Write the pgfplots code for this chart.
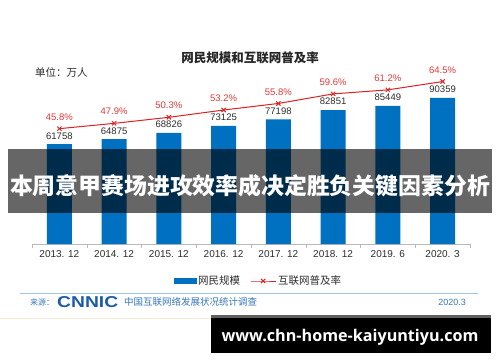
\documentclass[border=0pt]{standalone}
\usepackage{pgfplots}
\pgfplotsset{compat=1.18}
\usepackage{fontspec}
\usepackage{graphicx}
\setmainfont{Liberation Sans}
\newfontfamily\cjk{Noto Sans CJK SC}
\newfontfamily\urlfont{Open Sans}
\definecolor{barblue}{RGB}{0,112,192}
\definecolor{linered}{RGB}{218,36,36}
\definecolor{lblred}{RGB}{226,58,58}
\definecolor{txtgray}{RGB}{45,45,45}
\definecolor{srcblue}{RGB}{55,118,188}
\definecolor{logoblue}{RGB}{28,92,170}
\definecolor{rulec}{RGB}{160,196,230}
\definecolor{beige}{RGB}{244,234,214}
\pgfplotsset{longline/.style={legend image code/.code={\draw[mark repeat=2,mark phase=2,##1] plot coordinates {(0pt,0pt) (12.5pt,0pt) (25pt,0pt)};}}}
\begin{document}
\begin{tikzpicture}
\path[use as bounding box, fill=white] (0pt,0pt) rectangle (500pt,362pt);
\node[font=\cjk\bfseries\fontsize{12.5}{14}\selectfont, text=black!85] at (250pt,304pt) {网民规模和互联网普及率};
\node[font=\cjk\fontsize{10.5}{12}\selectfont, text=txtgray, anchor=west, inner sep=0pt] at (35pt,290pt) {单位：万人};

\begin{axis}[
  at={(32pt,118pt)}, anchor=south west,
  scale only axis, width=438pt, height=170pt,
  xmin=-0.5, xmax=7.5, ymin=0, ymax=105200,
  axis y line=none, axis x line*=bottom,
  axis line style={draw=gray!55,-},
  xtick={0,...,7},
  xticklabels={2013. 12,2014. 12,2015. 12,2016. 12,2017. 12,2018. 12,2019. 6,2020. 3},
  major tick length=0pt,
  minor xtick={-0.5,0.5,...,7.5}, minor tick length=4pt, tick align=outside,
  minor tick style={draw=gray!55},
  xticklabel style={font=\fontsize{10}{12}\selectfont, text=txtgray, yshift=-3pt},
  ybar, bar width=25pt, clip=false,
  point meta=explicit symbolic,
  nodes near coords,
  nodes near coords style={font=\fontsize{9.5}{11}\selectfont, text=txtgray, yshift=1.5pt},
]
\addplot[fill=barblue, draw=none] coordinates {
(0,61758)[61758] (1,64875)[64875] (2,68826)[68826] (3,73125)[73125]
(4,77198)[77198] (5,82851)[82851] (6,85449)[85449] (7,90359)[90359]};
\end{axis}

\begin{axis}[
  at={(32pt,118pt)}, anchor=south west,
  scale only axis, width=438pt, height=170pt,
  xmin=-0.5, xmax=7.5, ymin=0, ymax=67.5,
  hide axis, clip=false,
  legend style={draw=none, fill=none, legend columns=2,
    at={(0.517,0)}, anchor=center, yshift=-37pt,
    font=\cjk\fontsize{10.5}{12}\selectfont, text=txtgray,
    /tikz/every even column/.append style={column sep=8pt}},
  legend cell align=left,
]
\addlegendimage{legend image code/.code={\fill[barblue] (0pt,-2.5pt) rectangle (22pt,2.5pt);}}
\addlegendentry{网民规模}
\addplot[linered, line width=1pt, mark=x, mark size=3pt, mark options={line width=1pt},
  point meta=explicit symbolic,
  nodes near coords={\pgfplotspointmeta\%},
  nodes near coords style={font=\fontsize{9.5}{11}\selectfont, text=lblred, yshift=4.5pt},
  longline]
coordinates {
(0,45.8)[45.8] (1,47.9)[47.9] (2,50.3)[50.3] (3,53.2)[53.2]
(4,55.8)[55.8] (5,59.6)[59.6] (6,61.2)[61.2] (7,64.5)[64.5]};
\addlegendentry{互联网普及率}
\end{axis}

\draw[rulec, line width=0.8pt] (20pt,69pt) -- (478pt,69pt);
\node[anchor=west, font=\cjk\fontsize{8}{9}\selectfont, text=srcblue, inner sep=0pt] at (30pt,60pt) {来源：};
\node[anchor=west, inner sep=0pt, text=logoblue] at (57pt,60pt) {\resizebox{61pt}{11pt}{\bfseries CNNIC}};
\node[anchor=west, font=\cjk\fontsize{9.5}{11}\selectfont, text=srcblue, inner sep=0pt] at (124pt,60pt) {中国互联网络发展状况统计调查};
\node[anchor=east, font=\fontsize{9}{11}\selectfont, text=srcblue, inner sep=0pt] at (466pt,60pt) {2020.3};

\draw[beige, line width=1pt] (0pt,44pt) -- (211pt,44pt);
\fill[black] (211pt,9pt) rectangle (491pt,47pt);
\fill[black!62] (211pt,44pt) rectangle (491pt,47pt);
\node[text=white, inner sep=0pt] at (350pt,25pt) {\resizebox{257pt}{!}{\urlfont\bfseries www.chn-home-kaiyuntiyu.com}};

\fill[black, opacity=0.6] (8pt,149pt) rectangle (492pt,213pt);
\node[text=white, inner sep=0pt] at (250pt,176pt) {\resizebox{480pt}{!}{\cjk\bfseries 本周意甲赛场进攻效率成决定胜负关键因素分析}};
\end{tikzpicture}
\end{document}
